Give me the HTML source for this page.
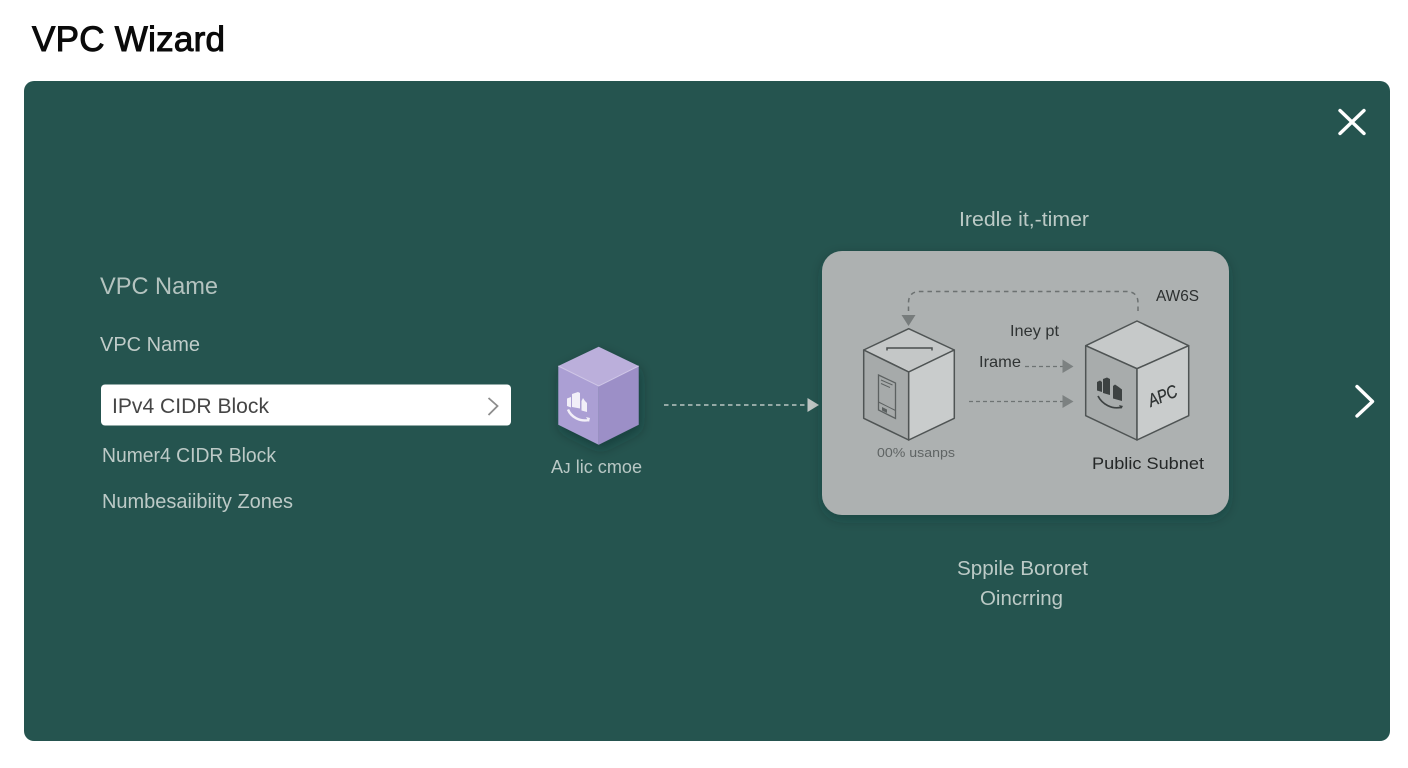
<!DOCTYPE html>
<html>
<head>
<meta charset="utf-8">
<style>
html,body{margin:0;padding:0;background:#fff;width:1408px;height:768px;overflow:hidden}
svg{display:block}
text{font-family:"Liberation Sans",sans-serif}
</style>
</head>
<body>
<svg width="1408" height="768" viewBox="0 0 1408 768" xmlns="http://www.w3.org/2000/svg">
<defs>
<filter id="sh" x="-20%" y="-20%" width="140%" height="140%"><feDropShadow dx="0" dy="4" stdDeviation="6" flood-color="#0c2a26" flood-opacity=".3"/></filter>
<filter id="soft" x="-30%" y="-30%" width="160%" height="160%"><feDropShadow dx="2" dy="5" stdDeviation="6" flood-color="#0c2a26" flood-opacity=".4"/></filter>
</defs>
<rect width="1408" height="768" fill="#fff"/>
<text x="32" y="51" font-size="35" fill="#0a0a0a" stroke="#0a0a0a" stroke-width="1" textLength="193" lengthAdjust="spacing">VPC Wizard</text>
<rect x="24" y="81" width="1366" height="660" rx="10" fill="#25544f"/>

<!-- close -->
<path d="M1340 110.500L1364 133.500M1364 110.500L1340 133.500" stroke="#fff" stroke-width="3.400" stroke-linecap="round" fill="none"/>
<!-- next -->
<path d="M1357 386.500L1372.500 401.500L1357 416" stroke="#fff" stroke-width="3.400" stroke-linecap="round" stroke-linejoin="round" fill="none"/>

<!-- left form -->
<text x="100" y="294" font-size="24" fill="#b4c3bf" textLength="118" lengthAdjust="spacingAndGlyphs">VPC Name</text>
<text x="100" y="351" font-size="20" fill="#c0ccc9" textLength="100" lengthAdjust="spacingAndGlyphs">VPC Name</text>
<rect x="101" y="384.500" width="410" height="41" rx="4" fill="#fff"/>
<text x="112" y="413" font-size="21" fill="#454545" textLength="157" lengthAdjust="spacingAndGlyphs">IPv4 CIDR Block</text>
<path d="M488.500 398L497.500 406L488.500 415" stroke="#8d8d8d" stroke-width="1.800" fill="none"/>
<text x="102" y="462" font-size="20" fill="#bdcac7" textLength="174" lengthAdjust="spacingAndGlyphs">Numer4 CIDR Block</text>
<text x="102" y="508" font-size="20" fill="#bdcac7" textLength="191" lengthAdjust="spacingAndGlyphs">Numbesaiibiity Zones</text>

<!-- purple cube -->
<g filter="url(#soft)">
<polygon points="598.700,346.700 638.700,366 598.700,386 558.300,366" fill="#bbafdb"/>
<polygon points="558.300,366 598.700,386 598.700,444.700 558.300,424.700" fill="#ab9fd4"/>
<polygon points="598.700,386 638.700,366 638.700,424.700 598.700,444.700" fill="#9c8fc7"/>
</g>
<path d="M558.300 366L598.700 386L638.700 366" stroke="#cfc6e6" stroke-width="1" fill="none"/>
<g fill="#f2eff8">
<path d="M567 398.500l4-1.500v10.500l-4-1.500z"/>
<path d="M572 394l6-2 2 1v15.500l-8-1.500z"/>
<path d="M581.500 401l1.500-3 2 3 2 2v9l-5.500-1.500z"/>
</g>
<path d="M568 409.500C571 417 580 422 589 420" stroke="#f2eff8" stroke-width="2.400" fill="none"/>
<path d="M586 417l4 1-1 4z" fill="#f2eff8"/>
<text x="551" y="473" font-size="18" fill="#b9c8c5" textLength="91" lengthAdjust="spacingAndGlyphs">Aᴊ lic cmoe</text>

<!-- connector -->
<line x1="664" y1="405" x2="808" y2="405" stroke="#b9c5c2" stroke-width="1.600" stroke-dasharray="4.500 3.500"/>
<polygon points="807.500,398 819,405 807.500,412" fill="#bfc6c4"/>

<!-- top/bottom labels -->
<text x="959" y="226" font-size="20" fill="#bccac6" textLength="130" lengthAdjust="spacingAndGlyphs">Iredle it,-timer</text>
<text x="957" y="575" font-size="20" fill="#bccac6" textLength="131" lengthAdjust="spacingAndGlyphs">Sppile Bororet</text>
<text x="980" y="605" font-size="20" fill="#bccac6" textLength="83" lengthAdjust="spacingAndGlyphs">Oincrring</text>

<!-- grey panel -->
<rect x="822" y="251" width="407" height="264" rx="20" fill="#adb1b1" filter="url(#sh)"/>

<!-- top loop -->
<path d="M1138 311V303Q1138 291.500 1126 291.500H920Q908.500 291.500 908.500 303V316" stroke="#6c7171" stroke-width="1.500" stroke-dasharray="4.500 4" fill="none"/>
<polygon points="901.500,315 915.500,315 908.500,326" fill="#777c7c"/>
<text x="1156" y="301" font-size="16" fill="#2c2f2f" textLength="43" lengthAdjust="spacingAndGlyphs">AW6S</text>

<!-- left box -->
<g stroke="#4f5454" stroke-width="1.500" stroke-linejoin="round">
<polygon points="908.700,328.700 954.300,350 908.700,372 863.700,350" fill="#c4c7c7"/>
<polygon points="863.700,350 908.700,372 908.700,440 863.700,418.300" fill="#a6aaaa"/>
<polygon points="908.700,372 954.300,350 954.300,418.300 908.700,440" fill="#c9cccc"/>
</g>
<path d="M887 350.500V348H932V350.500" stroke="#4a4f4f" stroke-width="1.500" fill="none"/>
<g stroke="#5c6161" fill="none">
<polygon points="878.500,375 895.500,383 895.500,418.500 878.500,410" stroke-width="1.300"/>
<line x1="881" y1="380" x2="892.500" y2="385" stroke-width="1"/>
<line x1="881" y1="383.500" x2="890" y2="387.500" stroke-width="1"/>
<line x1="878.500" y1="402" x2="895.500" y2="410.500" stroke-width="1"/>
</g>
<polygon points="882,407 887,409.500 887,413 882,410.500" fill="#5c6161"/>
<text x="877" y="457" font-size="13" fill="#5f6464" textLength="78" lengthAdjust="spacingAndGlyphs">00% usanps</text>

<!-- right box -->
<g stroke="#4f5454" stroke-width="1.500" stroke-linejoin="round">
<polygon points="1137,321 1188.700,345.700 1137,368.700 1085.700,345.700" fill="#c6c9c9"/>
<polygon points="1085.700,345.700 1137,368.700 1137,440 1085.700,415.700" fill="#a8acac"/>
<polygon points="1137,368.700 1188.700,345.700 1188.700,415.700 1137,440" fill="#c9cccc"/>
</g>
<g fill="#3d4242">
<path d="M1097 382l3-1.500 2 1.500v10l-5-1.500z"/>
<path d="M1103 379l4-1.500 3 1.500v16l-7-2z"/>
<path d="M1113 386l2-1.500 3 2 4 3v11.500l-9-2.500z"/>
</g>
<path d="M1098 396C1102 404 1112 410 1122 407" stroke="#3d4242" stroke-width="1.700" fill="none"/>
<path d="M1119 405l4 1-2 3z" fill="#3d4242"/>
<text transform="translate(1151 407) rotate(-22)" font-size="18" font-style="italic" fill="#2f3333" stroke="#2f3333" stroke-width=".3" textLength="30" lengthAdjust="spacingAndGlyphs">APC</text>

<!-- inner labels and arrows -->
<text x="1010" y="336" font-size="16" fill="#2f3333" textLength="49" lengthAdjust="spacingAndGlyphs">Iney pt</text>
<text x="979" y="367" font-size="16" fill="#2f3333" textLength="42" lengthAdjust="spacingAndGlyphs">Irame</text>
<line x1="1025" y1="366.500" x2="1063" y2="366.500" stroke="#6e7373" stroke-width="1.300" stroke-dasharray="4 3"/>
<polygon points="1062.500,359.500 1073.500,366.500 1062.500,373" fill="#7c8181"/>
<line x1="969" y1="401.500" x2="1063" y2="401.500" stroke="#6e7373" stroke-width="1.300" stroke-dasharray="4 3"/>
<polygon points="1062.500,395 1073.500,401.500 1062.500,408" fill="#7c8181"/>
<text x="1092" y="469" font-size="17" fill="#242727" textLength="112" lengthAdjust="spacingAndGlyphs">Public Subnet</text>
</svg>
</body>
</html>
